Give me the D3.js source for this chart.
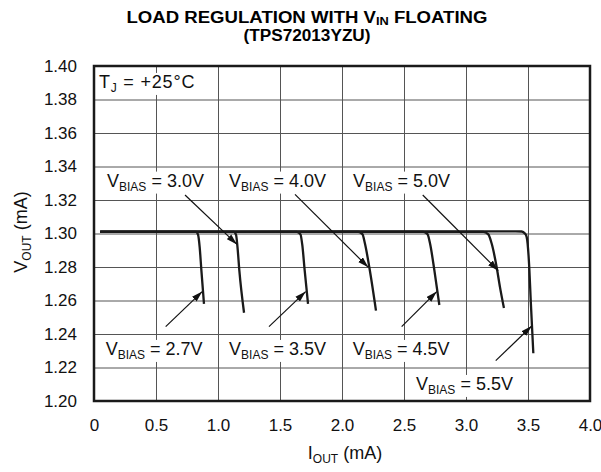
<!DOCTYPE html>
<html>
<head>
<meta charset="utf-8">
<script src="https://cdn.jsdelivr.net/npm/d3@7"></script>
<style>
  body { margin: 0; background: #fff; }
  svg { display: block; font-family: Arial, "Liberation Sans", Helvetica, sans-serif; }
</style>
</head>
<body>
<svg id="chart" width="601" height="472"></svg>
<script>
// tick values
const xTicks = [0, 0.5, 1.0, 1.5, 2.0, 2.5, 3.0, 3.5, 4.0]
const yTicks = [1.20, 1.22, 1.24, 1.26, 1.28, 1.30, 1.32, 1.34, 1.36, 1.38, 1.40]

// one curve per V_BIAS, points are [I_OUT (mA), V_OUT]
const curve27 = [[0.05, 1.301], [0.823, 1.301], [0.840, 1.299], [0.852, 1.292], [0.866, 1.278], [0.887, 1.258]]
const curve30 = [[0.05, 1.301], [1.128, 1.301], [1.146, 1.299], [1.157, 1.292], [1.172, 1.278], [1.210, 1.2527]]
const curve35 = [[0.05, 1.301], [1.635, 1.301], [1.665, 1.2995], [1.680, 1.293], [1.699, 1.278], [1.726, 1.258]]
const curve40 = [[0.05, 1.301], [2.131, 1.301], [2.165, 1.2995], [2.185, 1.294], [2.220, 1.280], [2.274, 1.254]]
const curve45 = [[0.05, 1.301], [2.656, 1.301], [2.690, 1.2995], [2.710, 1.294], [2.745, 1.278], [2.785, 1.2573]]
const curve50 = [[0.05, 1.301], [3.140, 1.301], [3.180, 1.2995], [3.207, 1.294], [3.247, 1.280], [3.274, 1.268], [3.306, 1.2555]]
const curve55 = [[0.05, 1.301], [3.400, 1.3013], [3.449, 1.3012], [3.475, 1.300], [3.489, 1.298], [3.510, 1.280], [3.522, 1.260], [3.543, 1.2285]]
const curves = [curve27, curve30, curve35, curve40, curve45, curve50, curve55]

// callouts: label text, label anchor [x, y] and arrow from -> to, all in data units
const biasLabels = ['3.0V', '4.0V', '5.0V', '2.7V', '3.5V', '4.5V', '5.5V']
const labelAt = [[0.105, 1.328], [1.089, 1.328], [2.089, 1.328], [0.094, 1.2275], [1.089, 1.2275], [2.086, 1.2275], [2.597, 1.2066]]
const arrowFrom = [[0.734, 1.3230], [1.621, 1.3234], [2.651, 1.3230], [0.578, 1.2444], [1.411, 1.2444], [2.481, 1.2444], [3.240, 1.2241]]
const arrowTo = [[1.153, 1.2935], [2.212, 1.2798], [3.260, 1.2778], [0.873, 1.2653], [1.707, 1.2653], [2.764, 1.2653], [3.530, 1.2448]]

const svg = d3.select('#chart')
const margin = {top: 66, right: 11, bottom: 71, left: 94}
const width = 601 - margin.left - margin.right
const height = 472 - margin.top - margin.bottom

const x = d3.scaleLinear().domain([0, 4]).range([0, width])
const y = d3.scaleLinear().domain([1.20, 1.40]).range([height, 0])

const g = svg.append('g')
  .attr('transform', 'translate(' + margin.left + ',' + margin.top + ')')

// title, two lines
svg.append('text')
  .attr('x', 307).attr('y', 22.5)
  .attr('text-anchor', 'middle')
  .attr('font-size', 16).attr('font-weight', 'bold')
  .attr('textLength', 361).attr('lengthAdjust', 'spacingAndGlyphs')
  .call(t => {
    t.append('tspan').text('LOAD REGULATION WITH V')
    t.append('tspan').attr('font-size', 11).attr('dy', 2.5).text('IN')
    t.append('tspan').attr('dy', -2.5).text(' FLOATING')
  })
svg.append('text')
  .attr('x', 307).attr('y', 40.5)
  .attr('text-anchor', 'middle')
  .attr('font-size', 16).attr('font-weight', 'bold')
  .attr('textLength', 127).attr('lengthAdjust', 'spacingAndGlyphs')
  .text('(TPS72013YZU)')

// grid
g.append('g')
  .attr('class', 'grid-x')
  .call(d3.axisBottom(x).tickValues(xTicks).tickSize(height).tickFormat(''))
  .call(s => s.select('.domain').remove())
  .selectAll('line').attr('stroke', '#555').attr('stroke-width', 1)
g.append('g')
  .attr('class', 'grid-y')
  .call(d3.axisLeft(y).tickValues(yTicks).tickSize(-width).tickFormat(''))
  .call(s => s.select('.domain').remove())
  .selectAll('line').attr('stroke', '#555').attr('stroke-width', 1)

// tick labels
g.append('g')
  .attr('transform', 'translate(0,' + height + ')')
  .call(d3.axisBottom(x).tickValues(xTicks).tickSize(0).tickPadding(18)
    .tickFormat(d => d === 0 ? '0' : d3.format('.1f')(d)))
  .call(s => s.select('.domain').remove())
  .selectAll('text').attr('font-size', 17).attr('fill', '#111').attr('font-family', null)
g.append('g')
  .call(d3.axisLeft(y).tickValues(yTicks).tickSize(0).tickPadding(17)
    .tickFormat(d3.format('.2f')))
  .call(s => s.select('.domain').remove())
  .selectAll('text').attr('font-size', 17).attr('fill', '#111').attr('font-family', null)

// axis titles
svg.append('text')
  .attr('transform', 'translate(345,459)')
  .attr('text-anchor', 'middle').attr('font-size', 18).attr('fill', '#111')
  .call(t => {
    t.append('tspan').text('I')
    t.append('tspan').attr('font-size', 12).attr('dy', 4).text('OUT')
    t.append('tspan').attr('dy', -4).text(' (mA)')
  })
svg.append('text')
  .attr('transform', 'translate(27,232) rotate(-90)')
  .attr('text-anchor', 'middle').attr('font-size', 18).attr('fill', '#111')
  .call(t => {
    t.append('tspan').text('V')
    t.append('tspan').attr('font-size', 12).attr('dy', 4).text('OUT')
    t.append('tspan').attr('dy', -4).text(' (mA)')
  })

// arrow head
svg.append('defs').append('marker')
  .attr('id', 'head')
  .attr('markerUnits', 'userSpaceOnUse')
  .attr('viewBox', '0 0 10 6')
  .attr('refX', 10).attr('refY', 3)
  .attr('markerWidth', 11).attr('markerHeight', 7)
  .attr('orient', 'auto')
  .append('path').attr('d', 'M0,0L10,3L0,6Z').attr('fill', '#111')

// callout labels with white boxes
function addLabel(target, pos, build, spacing) {
  const lg = target.append('g')
  const txt = lg.append('text')
    .attr('x', x(pos[0])).attr('y', y(pos[1]))
    .attr('font-size', 18).attr('fill', '#111')
    .attr('letter-spacing', spacing || 0)
    .call(build)
  const bb = txt.node().getBBox()
  lg.insert('rect', 'text')
    .attr('x', bb.x - 3).attr('y', bb.y + 1)
    .attr('width', bb.width + 6).attr('height', bb.height - 1)
    .attr('fill', '#fff')
}

addLabel(g, [0.04, 1.3869], t => {
  t.append('tspan').text('T')
  t.append('tspan').attr('font-size', 12).attr('dy', 4).text('J')
  t.append('tspan').attr('dy', -4).text(' = +25°C')
}, 0.8)

biasLabels.forEach((lab, i) => {
  addLabel(g, labelAt[i], t => {
    t.append('tspan').text('V')
    t.append('tspan').attr('font-size', 12).attr('dy', 4).text('BIAS')
    t.append('tspan').attr('dy', -4).text(' = ' + lab)
  })
})

// the curves
const line = d3.line()
  .x(d => x(d[0]))
  .y(d => y(d[1]))
  .curve(d3.curveMonotoneX)

g.selectAll('.curve')
  .data(curves)
  .enter()
  .append('path')
    .attr('class', 'curve')
    .attr('d', line)
    .attr('fill', 'none')
    .attr('stroke', '#1a1a1a')
    .attr('stroke-width', 2.3)

// arrows
g.selectAll('.arrow')
  .data(arrowFrom)
  .enter()
  .append('line')
    .attr('class', 'arrow')
    .attr('x1', d => x(d[0]))
    .attr('y1', d => y(d[1]))
    .attr('x2', (d, i) => x(arrowTo[i][0]))
    .attr('y2', (d, i) => y(arrowTo[i][1]))
    .attr('stroke', '#111')
    .attr('stroke-width', 1.2)
    .attr('marker-end', 'url(#head)')

// frame on top
g.append('rect')
  .attr('width', width).attr('height', height)
  .attr('fill', 'none')
  .attr('stroke', '#1a1a1a')
  .attr('stroke-width', 2.5)
</script>
</body>
</html>
